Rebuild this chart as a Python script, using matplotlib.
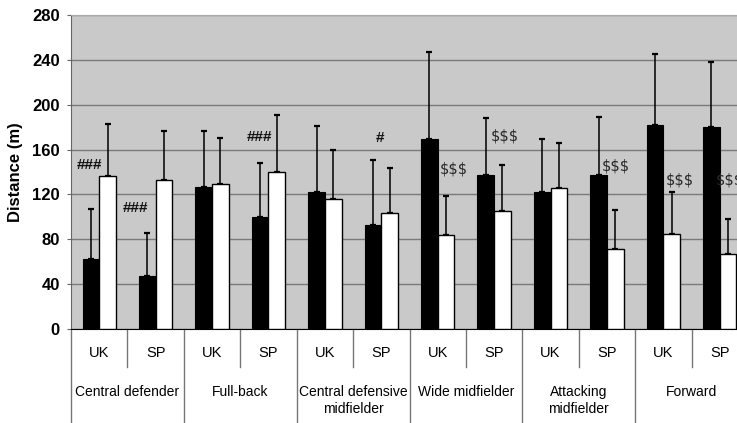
import numpy as np
import matplotlib
matplotlib.use('Agg')
import matplotlib.pyplot as plt

plt.rcParams['font.family'] = ['Liberation Sans', 'DejaVu Sans']

positions = ['Central defender', 'Full-back', 'Central defensive\nmidfielder',
             'Wide midfielder', 'Attacking\nmidfielder', 'Forward']
leagues = ['UK', 'SP']

# one entry per column (position x league)
black_mean = [62, 47, 127, 100, 122, 93, 169, 137, 122, 137, 182, 180]
black_top = [107, 86, 177, 148, 181, 151, 247, 188, 169, 189, 245, 238]
white_mean = [136, 133, 129, 140, 116, 103, 84, 105, 126, 71, 85, 67]
white_top = [183, 177, 170, 191, 160, 144, 119, 146, 166, 106, 122, 98]

# significance marks: text, x (column units), y
marks = ['###', '###', '###', '#', '$$$', '$$$', '$$$', '$$$', '$$$']
mark_x = [0.32, 1.14, 3.35, 5.48, 6.78, 7.69, 9.66, 10.79, 11.68]
mark_y = [146, 108, 171, 170, 143, 172, 145, 133, 133]

n = len(black_mean)
x = np.arange(n) + 0.5
w = 0.295

fig = plt.figure(figsize=(7.37, 4.23), dpi=100)
ax = fig.add_axes([71/737, 1-329/423, 677/737, 314/423])
ax.set_facecolor('#c9c9c9')

ax.bar(x - w/2, black_mean, w, color='black', edgecolor='black', lw=0.8, zorder=3)
ax.bar(x + w/2, white_mean, w, color='white', edgecolor='black', lw=1.0, zorder=3)
bm = np.array(black_mean); wm = np.array(white_mean)
ax.errorbar(x - w/2, bm, yerr=[np.zeros(n), np.array(black_top) - bm], fmt='none',
            ecolor='black', elinewidth=1.1, capsize=2.3, capthick=1.6, zorder=2)
ax.errorbar(x + w/2, wm, yerr=[np.zeros(n), np.array(white_top) - wm], fmt='none',
            ecolor='black', elinewidth=1.1, capsize=2.3, capthick=1.6, zorder=2)

for t, mx, my in zip(marks, mark_x, mark_y):
    if '#' in t:
        ax.text(mx, my, t, ha='center', va='center', fontsize=11, fontweight='bold',
                color='#111111', zorder=4)
    else:
        ax.text(mx, my, t, ha='center', va='center', fontsize=10.5, color='#2a2a2a',
                family='DejaVu Sans', zorder=4)

ax.set_xlim(0, n)
ax.set_ylim(0, 280)
ax.set_yticks(range(0, 281, 40))
ax.set_yticklabels([str(v) for v in range(0, 281, 40)], fontsize=12, fontweight='bold')
ax.yaxis.grid(True, color='#7a7a7a', lw=1.0, zorder=0)
ax.set_axisbelow(True)
ax.tick_params(axis='y', length=3, pad=5, color='#666666')
ax.set_xticks([])
ax.set_ylabel('Distance (m)', fontsize=12, fontweight='bold', labelpad=7)

ax.spines['right'].set_visible(False)
ax.spines['top'].set_color('#aaaaaa')
ax.spines['left'].set_color('#666666')
ax.spines['bottom'].set_color('black')

# category table below the axis
tr = ax.get_xaxis_transform()
for i in range(n):
    ax.text(x[i], -(353-329)/314, leagues[i % 2], transform=tr, ha='center',
            va='center', fontsize=10.5)
for i in range(n + 1):
    low = -(423-329)/314 if i % 2 == 0 else -(367-329)/314
    ax.plot([i, i], [0, low], transform=tr, color='#777777', lw=1.0, clip_on=False)
for j, name in enumerate(positions):
    ax.text(2*j + 1, -(385-329)/314, name, transform=tr, ha='center', va='top',
            fontsize=10, linespacing=1.25)

fig.savefig('out.png', dpi=100)
